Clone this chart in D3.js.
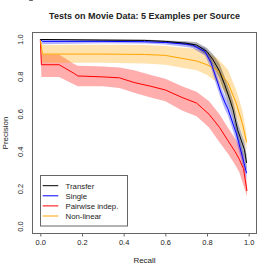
<!DOCTYPE html>
<html>
<head>
<meta charset="utf-8">
<script src="https://cdn.jsdelivr.net/npm/d3@7"></script>
<style>
  body { margin: 0; background: #fff; }
  svg { display: block; font-family: "Liberation Sans", Arial, sans-serif; }
</style>
</head>
<body>
<div id="chart"></div>
<script>
// values
const legendLabels = ["Transfer", "Single", "Pairwise indep.", "Non-linear"];
const tickValues = [0, 0.2, 0.4, 0.6, 0.8, 1.0];

const transferRecall = [0, 0.3, 0.5, 0.6, 0.7, 0.75, 0.8, 0.83, 0.86, 0.885, 0.91, 0.925, 0.947, 0.98, 0.99];
const transferPrec   = [1.0, 0.997, 0.995, 0.99, 0.98, 0.97, 0.936, 0.89, 0.83, 0.758, 0.677, 0.624, 0.517, 0.41, 0.34];
const transferLo     = [1.0, 0.993, 0.99, 0.985, 0.97, 0.955, 0.915, 0.86, 0.79, 0.71, 0.63, 0.58, 0.47, 0.36, 0.30];
const transferHi     = [1.0, 1.0, 1.0, 0.995, 0.99, 0.985, 0.955, 0.92, 0.87, 0.80, 0.72, 0.67, 0.56, 0.45, 0.38];

const singleRecall = [0, 0.01, 0.3, 0.5, 0.6, 0.7, 0.73, 0.79, 0.82, 0.845, 0.868, 0.885, 0.9, 0.94, 0.97, 0.99];
const singlePrec   = [1.0, 0.99, 0.99, 0.988, 0.984, 0.975, 0.97, 0.936, 0.874, 0.79, 0.713, 0.665, 0.63, 0.50, 0.374, 0.285];
const singleLo     = [1.0, 0.975, 0.98, 0.978, 0.973, 0.96, 0.955, 0.915, 0.845, 0.755, 0.68, 0.63, 0.595, 0.46, 0.335, 0.25];
const singleHi     = [1.0, 1.0, 0.997, 0.995, 0.992, 0.985, 0.98, 0.955, 0.90, 0.82, 0.745, 0.70, 0.665, 0.54, 0.41, 0.32];

const pairRecall = [0, 0.005, 0.09, 0.16, 0.18, 0.3, 0.38, 0.45, 0.53, 0.6, 0.68, 0.75, 0.81, 0.86, 0.9, 0.935, 0.955, 0.975, 0.992];
const pairPrec   = [1.0, 0.865, 0.865, 0.82, 0.805, 0.80, 0.795, 0.77, 0.75, 0.73, 0.69, 0.66, 0.60, 0.53, 0.46, 0.40, 0.36, 0.31, 0.19];
const pairLo     = [1.0, 0.80, 0.80, 0.76, 0.75, 0.75, 0.74, 0.715, 0.69, 0.67, 0.62, 0.59, 0.53, 0.45, 0.39, 0.33, 0.29, 0.22, 0.16];
const pairHi     = [1.0, 0.92, 0.92, 0.87, 0.86, 0.855, 0.85, 0.835, 0.81, 0.79, 0.75, 0.72, 0.67, 0.60, 0.53, 0.47, 0.43, 0.38, 0.22];

const nonlinRecall = [0, 0.01, 0.3, 0.5, 0.6, 0.7, 0.75, 0.8, 0.85, 0.9, 0.94, 0.97, 0.99];
const nonlinPrec   = [1.0, 0.922, 0.922, 0.92, 0.915, 0.895, 0.885, 0.865, 0.835, 0.77, 0.66, 0.55, 0.45];
const nonlinLo     = [1.0, 0.875, 0.875, 0.872, 0.865, 0.845, 0.835, 0.81, 0.77, 0.70, 0.59, 0.49, 0.41];
const nonlinHi     = [1.0, 0.97, 0.972, 0.97, 0.965, 0.955, 0.95, 0.93, 0.90, 0.84, 0.73, 0.62, 0.49];

function zipSeries(r, p, lo, hi) {
  return r.map((d, i) => ({ r: d, p: p[i], lo: lo[i], hi: hi[i] }));
}

const series = [
  { name: legendLabels[2], color: "red",    band: "rgba(255,0,0,0.32)",    data: zipSeries(pairRecall, pairPrec, pairLo, pairHi) },
  { name: legendLabels[3], color: "orange", band: "rgba(255,165,0,0.32)",  data: zipSeries(nonlinRecall, nonlinPrec, nonlinLo, nonlinHi) },
  { name: legendLabels[1], color: "blue",   band: "rgba(0,0,255,0.3)",     data: zipSeries(singleRecall, singlePrec, singleLo, singleHi) },
  { name: legendLabels[0], color: "black",  band: "rgba(0,0,0,0.3)",       data: zipSeries(transferRecall, transferPrec, transferLo, transferHi) }
];
const legendColors = ["black", "blue", "red", "orange"];

var width = 274;
var height = 274;
const textColor = "#222";
const frameColor = "#666";

var svg = d3.select("#chart").append("svg")
  .attr("width", width)
  .attr("height", height);

var x = d3.scaleLinear().domain([-0.04, 1.04]).range([32, 257]);
var y = d3.scaleLinear().domain([-0.04, 1.04]).range([234, 32]);

// bands first, then lines on top
var area = d3.area()
  .x(d => x(d.r))
  .y0(d => y(d.lo))
  .y1(d => y(d.hi));

var line = d3.line()
  .x(d => x(d.r))
  .y(d => y(d.p));

svg.selectAll("path.band")
  .data(series)
  .enter()
  .append("path")
  .attr("class", "band")
  .attr("d", d => area(d.data))
  .attr("fill", d => d.band)
  .attr("stroke", "none");

svg.selectAll("path.curve")
  .data(series)
  .enter()
  .append("path")
  .attr("class", "curve")
  .attr("d", d => line(d.data))
  .attr("fill", "none")
  .attr("stroke", d => d.color)
  .attr("stroke-width", 1);

// frame
svg.append("rect")
  .attr("x", 32.5).attr("y", 32.5)
  .attr("width", 224).attr("height", 201)
  .attr("fill", "none")
  .attr("stroke", frameColor)
  .attr("stroke-width", 1);

// axes
var xAxis = d3.axisBottom(x).tickValues(tickValues).tickSize(3).tickFormat(d3.format(".1f"));
var gx = svg.append("g").attr("transform", "translate(0,233.5)").call(xAxis);
gx.select(".domain").remove();
gx.selectAll("line").attr("stroke", frameColor);
gx.selectAll("text").attr("fill", textColor).style("font-size", "7.5px").attr("dy", "0.9em").attr("y", 5);

var yAxis = d3.axisLeft(y).tickValues(tickValues).tickSize(3).tickFormat(d3.format(".1f"));
var gy = svg.append("g").attr("transform", "translate(32.5,0)").call(yAxis);
gy.select(".domain").remove();
gy.selectAll("line").attr("stroke", frameColor);
gy.selectAll("text")
  .attr("fill", textColor)
  .style("font-size", "7.5px")
  .attr("x", null).attr("dy", null)
  .attr("text-anchor", "middle")
  .attr("transform", d => "translate(-9.5," + y(d) + ") rotate(-90)")
  .attr("y", 0);
gy.selectAll(".tick").attr("transform", null);

// titles
svg.append("text")
  .attr("x", 144.5).attr("y", 19)
  .attr("text-anchor", "middle")
  .style("font-size", "9px").style("font-weight", "bold")
  .attr("fill", textColor)
  .text("Tests on Movie Data: 5 Examples per Source");

svg.append("text")
  .attr("x", 144.5).attr("y", 263)
  .attr("text-anchor", "middle")
  .style("font-size", "8px")
  .attr("fill", textColor)
  .text("Recall");

svg.append("text")
  .attr("transform", "translate(7.5,133) rotate(-90)")
  .attr("text-anchor", "middle")
  .style("font-size", "8px")
  .attr("fill", textColor)
  .text("Precision");

// legend
var lg = svg.append("g");
lg.append("rect")
  .attr("x", 40.5).attr("y", 175.5)
  .attr("width", 87).attr("height", 50.5)
  .attr("fill", "white")
  .attr("stroke", frameColor);

legendLabels.forEach((label, i) => {
  var ly = 185.7 + i * 10.1;
  lg.append("line")
    .attr("x1", 42.7).attr("x2", 58.3)
    .attr("y1", ly).attr("y2", ly)
    .attr("stroke", legendColors[i])
    .attr("stroke-width", 1);
  lg.append("text")
    .attr("x", 65.5).attr("y", ly + 2.8)
    .style("font-size", "7.8px")
    .attr("fill", textColor)
    .text(label);
});
</script>
</body>
</html>
